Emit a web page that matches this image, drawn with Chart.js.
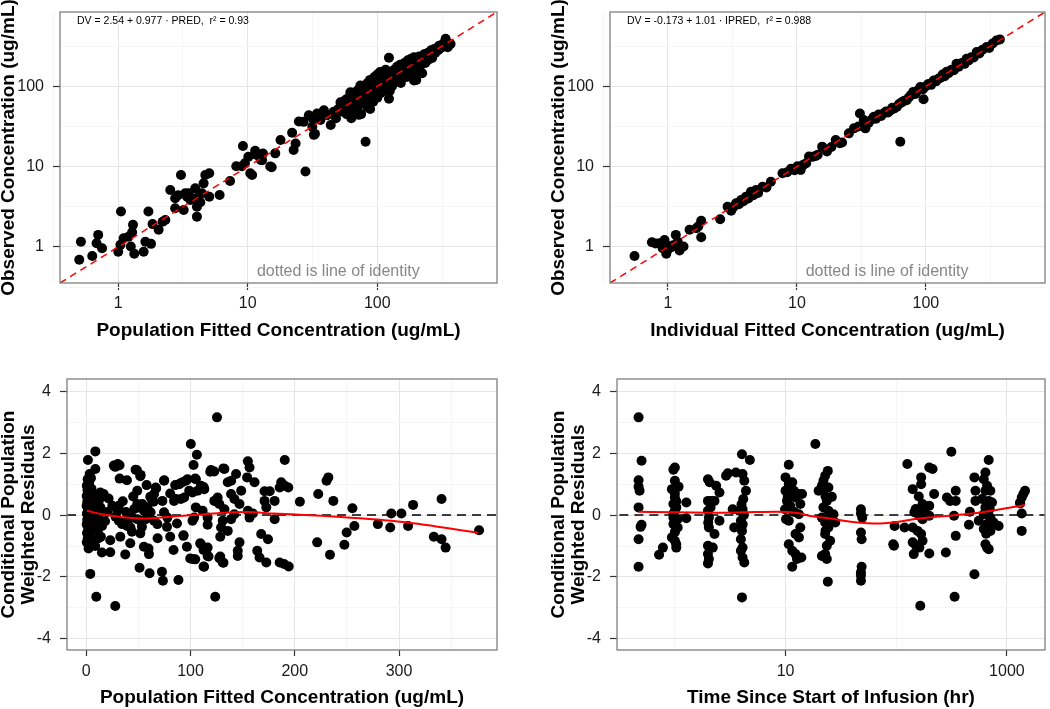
<!DOCTYPE html>
<html>
<head>
<meta charset="utf-8">
<script src="https://cdn.jsdelivr.net/npm/chart.js@4.4.1/dist/chart.umd.min.js"></script>
<style>
  body { margin: 0; background: #fff; width: 1050px; height: 709px; position: relative; overflow: hidden; }
  canvas { position: absolute; }
  #c1 { left: 0; top: 0; }
  #c2 { left: 525px; top: 0; }
  #c3 { left: 0; top: 354px; }
  #c4 { left: 525px; top: 354px; }
</style>
</head>
<body>
<canvas id="c1" width="525" height="354"></canvas>
<canvas id="c2" width="525" height="354"></canvas>
<canvas id="c3" width="525" height="355"></canvas>
<canvas id="c4" width="525" height="355"></canvas>
<script>
// tick labels
const logMajor = [1, 10, 100]
const logMinor = [0.316, 3.16, 31.6, 316]
const predMajor = [0, 100, 200, 300]
const predMinor = [50, 150, 250, 350]
const timeMajor = [10, 1000]
const timeMinor = [1, 100]
const resMajor = [-4, -2, 0, 2, 4]
const resMinor = [-3, -1, 1, 3]

// [PRED, DV]
const popFit = [
  [0.50,0.69],[0.515,1.16],[0.63,0.77],[0.68,1.11],[0.70,1.41],[0.75,0.96],
  [1.00,0.87],[1.04,1.06],[1.05,2.75],[1.10,1.28],[1.20,1.34],[1.25,1.01],[1.28,1.52],[1.30,1.88],[1.33,0.82],
  [1.57,0.87],[1.62,1.16],[1.71,2.75],[1.79,1.09],[1.84,1.92],[2.05,1.63],[2.31,2.16],[2.20,2.05],
  [2.52,5.10],[2.75,3.02],[2.75,4.03],[3.05,7.84],[2.90,4.40],[3.20,2.88],[3.29,4.65],[3.50,4.65],[3.60,3.84],
  [3.93,5.36],[4.05,2.38],[4.05,3.16],[4.17,4.22],[4.30,3.60],[4.43,4.65],[4.56,6.18],[4.70,7.84],[5.04,8.24],
  [5.04,4.22],[6.06,4.43],[3.40,4.20],[3.80,4.00],
  [7.30,6.60],[8.15,10.1],[9.18,18.0],[9.00,10.1],[9.50,10.96],[10.45,8.24],[10.8,7.84],[10.1,13.2],[11.4,15.7],
  [11.7,13.9],[12.6,12.1],[12.9,12.0],[13.1,14.5],[14.9,10.0],[15.3,9.8],[16.3,14.6],[17.9,21.4],[22.0,26.4],
  [22.6,16.1],[23.4,19.4],[24.8,36.3],[27.9,8.7],
  [29.6,43.6],[31.5,31.3],[32.4,24.8],[34.3,45.7],[36.4,37.9],[38.7,50.3],[41.1,43.6],[43.7,32.9],[27,36],[32,39],
  [33,25.5],[38.5,47.5],[46,48],[48,40],[49,47.5],[50,52],[52,63],[54,48],[55,58],[57,68],[58,45],[60,72],[60,55],
  [62,84],[63,40],[65,62],[66,46],[66,78],[68,50],[70,88],[70,66],[72,44],[72,58],[73,92],[74,102],[75,45],[76,72],
  [78,84],[80,62],[80,95],[81.2,20.4],
  [82,76],[83,84],[84,55],[84,110],[85,70],[86,98],[88,52],[88,120],[90,88],[90,78],[92,105],[93,64],[95,130],[95,92],
  [97,115],[98,85],[100,100],[100,140],[100,72],[102,120],[103,95],[105,108],[105,150],[106,82],[108,130],[110,100],
  [110,118],[112,88],[113,140],[115,110],[116,160],[118,125],[118,95],[120,105],[120,145],[122,130],[123,226],[123,70],
  [124,115],[125,88],[126,150],[128,120],[130,140],[130,100],
  [133,130],[135,160],[136,112],[138,125],[140,150],[142,175],[143,118],[145,140],[148,165],[150,130],[150,185],
  [152,110],[155,150],[158,170],[160,140],[162,195],[165,160],[168,130],[170,180],[172,210],[175,150],[178,190],
  [180,165],[182,220],[185,175],[188,140],[190,200],[192,118],[192,230],[195,180],[198,160],[200,215],[200,120],
  [205,190],[210,235],[212,170],[215,200],[220,225],[222,145],[225,210],[230,250],[235,195],[240,230],[245,260],
  [250,215],[255,240],[260,280],[265,225],[270,255],[275,290],[280,260],[290,300],[295,280],[300,320],[310,300],
  [318,330],[325,320],[330,350],[337,390],[345,340],[355,330],[350,305],[368,335]
]

// [IPRED, DV]
const indFit = [
  [0.55,0.77],[0.75,1.14],[0.80,1.10],[0.86,1.11],[0.94,1.22],[0.97,1.06],[0.91,0.96],[0.97,0.82],[1.06,0.99],
  [1.15,1.41],[1.19,1.16],[1.23,0.90],[1.32,1.01],[1.00,0.93],[1.10,1.05],[1.47,1.63],[1.66,1.71],[1.81,2.12],
  [1.81,1.32],[1.72,1.80],
  [2.54,2.21],[2.90,3.17],[3.09,2.82],[3.20,3.10],[3.37,3.49],[3.55,3.40],[3.69,3.84],[3.85,3.70],[4.03,4.22],
  [4.20,4.00],[4.40,4.86],[4.60,4.40],[4.82,5.10],[5.00,4.70],[5.42,5.61],[5.80,5.50],[6.28,6.48],[7.73,8.24],
  [8.40,8.50],[9.00,9.40],[9.60,9.00],[10.1,10.1],[10.6,9.2],[10.7,9.1],[11.2,10.5],[11.8,11.0],[12.4,13.3],
  [13.2,13.2],[14.0,13.5],[14.5,14.0],[15.7,17.7],[17.1,15.4],[18.5,17.5],[20.0,21.4],[21.5,19.5],[22.4,19.9],
  [25.3,25.9],[27.7,29.9],[30.8,45.8],[30.0,31.5],[33.0,37.9],[34.0,29.9],[36.0,35.0],[38.0,38.5],[39.5,41.7],
  [41.0,39.5],[43.0,44.5],[45.0,42.5],[47.0,45.8],[49.0,48.5],[51.0,47.0],[53.0,50.0],[55.0,54.0],[57.0,53.0],
  [59.7,55.5],[62.0,60.0],[63.4,20.4],[65.0,63.0],[68.0,66.0],[71.0,67.0],[74.0,73.0],[77.0,78.0],[80.0,85.0],
  [83.0,80.0],[86.0,88.0],[90.6,98.0],[96.0,69.0],[95.0,92.0],[100,100],[105,107],[110,104],[115,118],[120,115],
  [125,124],[130,128],[135,140],[140,133],[145,151],[150,145],[158,160],[165,158],[173,191],[180,175],[190,195],
  [200,190],[207,220],[215,210],[225,230],[235,228],[248,267],[260,255],[275,285],[296,307],[310,300],[330,340],
  [353,372],[375,383]
]

// [PRED, CWRES]
const resPred = [
  [125.4,3.16],[100.3,2.30],[106.1,1.95],[102.9,1.62],[8.7,2.06],[1.6,1.78],[190.4,1.78],[155,1.74],[156.6,1.54],
  [122.8,1.41],[119.6,1.46],[132.5,1.49],[26.4,1.60],[30.2,1.65],[47.3,1.47],[52.1,1.30],[8.7,1.49],[3.2,1.33],
  [1.3,1.16],[143.7,1.33],[135.7,1.06],[139,1.11],[154.3,1.22],[161.4,1.06],[232.2,1.22],[230.5,1.11],[190.4,0.95],
  [187,1.06],[193.8,0.89],[222.5,0.68],[204.9,0.43],[237,0.46],[255.3,0.22],[340.8,0.52],[313.5,0.33],[292.6,0.05],
  [302.3,0.05],[291.6,-0.40],[279.7,-0.29],[308.7,-0.35],[257.2,-0.35],[249.8,-0.56],[247.6,-0.96],[221.5,-0.88],
  [233.8,-1.28],[333.4,-0.70],[340.8,-0.78],[344.7,-1.05],[376.8,-0.49],[194.2,-1.66],[189.7,-1.58],[185.5,-1.53],
  [172.7,-1.53],[166.2,-1.37],[164,-1.15],[145.3,-1.32],[145.3,-1.15],[147,-0.88],[130.9,-1.53],[127.6,-1.39],
  [112.5,-1.66],[116.4,-1.32],[116.4,-1.05],[110,-0.94],[101.9,-1.42],[104.5,-1.43],[96.5,-1.02],[93.2,-0.67],
  [88.4,-2.10],[72.6,-1.83],[73.5,-2.12],[60.7,-1.88],[51.1,-1.70],[60.1,-1.26],[55.3,-1.02],[37.4,-1.27],[23.0,-1.20],
  [15.0,-1.21],[3.8,-1.90],[9.6,-2.64],[27.8,-2.94],[123.7,-2.64],[2.2,-1.08],[2.5,-0.88],[11.8,-0.75],[23.0,-0.81],
  [32.6,-0.70],[42.2,-0.91],[43.8,-0.54],[51.8,-0.59],[53.4,-0.38],[59.7,-1.08],[68.4,-0.75],[77.4,-0.38],[80.5,-0.70],
  [83.7,-1.13],[87,-0.27],[93.3,-0.65],[99.7,-1.40],[109.3,-0.91],[112.5,-1.13],[117.3,-1.34],[113,-1.67],[128.5,-1.34],
  [131.6,-1.54],[128.5,-0.70],[68.2,-0.29],[174.3,-0.78],[167.8,-0.61],[180.7,-0.13],[180.7,0.46],[185.5,0.89],
  [171,0.77],[176,0.77],[171,0.46],[172.7,0.25],[159.8,0.05],[156.6,-0.08],[155,0.14],[148.6,0.79],[147,0.36],
  [138.9,0.68],[142.1,0.52],[126,0.57],[122.8,0.46],[127.6,0.36],[132.5,0.19],[129.3,-0.40],[130.9,-0.18],
  [135.7,-0.51],[138.9,-0.13],[142,0.03],[116.4,-0.08],[116.4,-0.31],[111.6,0.14],[105.1,0.25],[103.5,-0.08],
  [101.9,-0.18],[113.2,0.84],[110,0.95],[106.8,0.79],[101.9,0.73],[98.7,0.79],[97.1,1.16],[95.5,1.11],[92.3,1.06],
  [89.1,1.00],[105.1,1.16],[93.9,0.57],[90.7,0.52],[85.9,0.52],[84.2,0.46],[77.8,-0.08],[74.6,0.09],[73,0.46],
  [74.6,1.11],[67,0.86],[61.4,0.59],[64.5,0.43],[74.8,1.13],[80.5,0.70],[85.3,0.97],[90,1.02],[104.5,1.18],
  [112.5,0.91],[118.9,1.40],[131.6,1.51],[66.6,0.89],[65,0.68],[63.3,0.46],[58.5,0.25],[61.7,0.09],[55.3,0.14],
  [53.7,0.36],[50.5,0.25],[48.9,-0.13],[52.1,-0.18],[57,-0.13],[65,-0.18],[59,-0.05],[48.9,0.36],[48.9,0.79],
  [57.9,0.97],[44,-0.08],[42.4,-0.40],[39.2,-0.35],[34.4,-0.29],[31.2,-0.18],[29.6,0.14],[31.2,0.30],[32,1.18],
  [39,1.13],[48.6,1.45],[51.8,1.26],[27.8,1.56],[31.9,1.61],[15,0.59],[21.4,0.54],[16.7,0.68],[13.5,0.73],
  [11.9,0.46],[13.5,0.25],[11.9,0.03],[13.5,-0.18],[15.1,-0.35],[25,0.30],[28,-0.05],[35,0.45],[38,0.10],
  [40,-0.15],[45,0.60],[46,0.20],[18,-0.20],[20,0.10],
  [0.5,0.95],[1.2,0.80],[0.4,0.62],[2.0,0.70],[1.0,0.45],[0.3,0.30],[2.5,0.55],[1.5,0.20],[0.6,0.05],[2.2,0.00],
  [0.9,-0.15],[0.4,-0.30],[1.8,-0.42],[0.7,-0.58],[1.4,-0.75],[0.5,-0.88],[3.0,0.25],[3.5,-0.10],[4.2,0.45],
  [4.0,-0.55],[5.0,0.85],[5.5,0.10],[6.0,-0.30],[6.5,0.60],[7.0,-0.80],[8.0,0.35],[9.0,-0.15],[10.0,0.65],
  [11.0,-0.50],[12.0,0.15],[14.0,-0.70],[8.5,-1.00],[2.8,1.05],[4.5,1.20],[3.2,-1.00]
]

// [TIME, CWRES]
const resTime = [
  [0.47,3.16],[0.50,1.76],[0.47,1.13],[0.47,0.92],[0.48,0.79],[0.47,0.25],[0.50,-0.31],[0.49,-0.38],[0.47,-0.78],
  [0.47,-1.67],[0.72,-1.28],[0.78,-1.05],
  [1.00,1.54],[0.97,1.47],[1.00,1.11],[0.94,0.84],[1.03,0.89],[1.08,0.92],[1.00,0.57],[0.97,0.36],[1.03,0.25],
  [1.00,0.14],[0.97,-0.08],[1.06,-0.13],[0.97,-0.29],[1.06,-0.40],[0.94,-0.72],[1.00,-0.83],[1.03,-0.94],[1.03,-1.05],
  [1.27,0.41],[1.27,-0.10],[1.00,0.70],[1.03,0.45],[0.97,0.05],[1.00,-0.55],
  [1.99,1.16],[2.06,1.06],[1.99,0.46],[2.13,0.46],[2.28,0.46],[2.36,0.95],[2.53,0.73],[2.53,-0.18],[2.03,-0.08],
  [2.03,-0.40],[2.28,-0.61],[1.99,-0.99],[2.20,-1.05],[1.99,-1.26],[2.03,-1.42],[1.99,-1.56],[1.99,0.14],[2.1,0.25],
  [2.0,-0.25],[2.90,1.27],[3.01,1.35],
  [3.56,1.38],[4.04,1.97],[4.76,1.78],[4.09,1.33],[4.24,1.11],[4.39,0.79],[4.15,0.52],[4.09,0.19],[3.82,0.14],
  [3.33,0.19],[3.44,-0.40],[3.95,-0.18],[4.04,-0.51],[3.95,-0.78],[4.09,-1.05],[3.95,-1.15],[4.09,-1.37],[4.24,-1.53],
  [4.04,-2.66],[4.2,0.0],[4.1,-0.3],[4.0,0.35],
  [10.7,1.63],[10.0,1.22],[10.7,1.00],[11.5,1.06],[11.9,0.79],[12.3,0.57],[13.2,0.68],[10.0,0.79],[10.3,0.46],
  [9.9,0.19],[10.1,-0.13],[10.7,-0.18],[11.5,0.14],[13.6,0.36],[14.1,0.68],[13.2,0.03],[13.6,-0.40],[12.3,-0.61],
  [13.2,-0.72],[10.7,-0.94],[11.5,-1.15],[12.3,-1.26],[12.7,-1.42],[11.5,-1.67],[13.9,-1.37],[11.0,0.30],[12.0,0.10],
  [10.5,0.60],[18.6,2.30],
  [24.1,1.43],[22.8,1.27],[22.0,1.11],[21.3,0.95],[19.9,0.79],[22.0,0.77],[24.4,0.89],[26.2,0.59],[23.6,0.46],
  [22.0,0.25],[24.4,0.14],[27.1,0.03],[21.3,-0.08],[22.8,-0.24],[28.1,-0.24],[24.4,-0.40],[22.8,-0.61],[25.3,-0.83],
  [23.6,-0.99],[22.8,-1.26],[21.3,-1.32],[23.6,-1.42],[24.1,-2.15],[23.0,0.60],[24.0,-0.10],[23.0,-0.50],
  [48,0.19],[49.3,-0.08],[48,-0.56],[48.7,-0.78],[48.7,-1.67],[48,-1.85],[48,-2.12],[48,-1.95],[48,0.05],
  [96.6,-0.35],[94,-0.94],[95.5,-0.99],[126,1.65],
  [141,0.84],[168,1.22],[168,1.00],[199,1.54],[213,1.49],[220,0.68],[173,0.36],[199,0.30],[179,0.25],[146,0.09],
  [162,-0.02],[173,-0.13],[119,-0.40],[141,-0.40],[156,-0.51],[168,-0.61],[141,-0.88],[151,-0.99],[162,-1.05],
  [173,-0.83],[144,-1.26],[199,-1.24],[165,-2.93],[199,-0.02],[160,0.60],[150,0.20],[180,0.10],
  [281,-1.21],[287,0.57],[307,0.46],[315,2.05],[333,-0.02],[345,0.79],[345,0.46],[345,-0.67],[337,-2.64],
  [509,1.22],[509,-1.91],[463,0.11],[454,-0.31],[520,0.79],[520,0.46],[557,-0.18],[640,1.38],[618,1.16],[662,0.95],
  [685,1.78],[640,0.79],[709,0.79],[597,0.52],[685,0.46],[640,0.25],[734,0.41],[618,0.03],[709,-0.08],[662,-0.29],
  [618,-0.45],[709,-0.51],[760,-0.24],[842,-0.35],[640,-0.94],[662,-1.05],[685,-1.10],[660,0.10],[700,0.20],[650,-0.60],
  [1459,0.79],[1409,0.68],[1361,0.57],[1316,0.41],[1361,0.05],[1361,-0.51],[1316,0.38]
]

// smoother
const smoothPred = [[0.6,0.14],[16.6,0.02],[55,-0.11],[80.5,-0.05],[103,0.0],[128.5,0.07],[154,0.10],[180,0.05],
  [240,-0.05],[304,-0.22],[376,-0.57]]
const smoothTime = [[0.47,0.11],[1.0,0.09],[2.1,0.08],[4.0,0.09],[8.4,0.11],[12.7,0.07],[16.8,-0.03],[25.3,-0.11],
  [40.8,-0.22],[71,-0.27],[162,-0.11],[485,0.05],[842,0.18],[1459,0.33]]

Chart.defaults.font.family = '"Liberation Sans", Arial, Helvetica, sans-serif'

const xy = arr => arr.map(([x, y]) => ({ x, y }))

const decor = {
  id: 'decor',
  afterDraw(chart, args, opts) {
    const { ctx, chartArea: a } = chart
    ctx.save()
    ctx.strokeStyle = '#7f7f7f'
    ctx.lineWidth = 1.3
    ctx.strokeRect(a.left, a.top, a.right - a.left, a.bottom - a.top)
    if (opts.eq) {
      ctx.font = '10.5px "Liberation Sans", Arial, sans-serif'
      ctx.fillStyle = '#000'
      ctx.textBaseline = 'middle'
      ctx.fillText(opts.eq, a.left + 17, a.top + 9)
    }
    if (opts.note) {
      const x = chart.scales.x.getPixelForValue(opts.note.x)
      const y = chart.scales.y.getPixelForValue(opts.note.y)
      ctx.font = '16px "Liberation Sans", Arial, sans-serif'
      ctx.fillStyle = '#878787'
      ctx.textAlign = 'center'
      ctx.textBaseline = 'middle'
      ctx.fillText(opts.note.text, x, y)
    }
    ctx.restore()
  }
}

function axis(o) {
  const isMajor = v => o.major.includes(v)
  return {
    type: o.type,
    min: o.min,
    max: o.max,
    afterBuildTicks: s => {
      s.ticks = o.major.concat(o.minor).sort((a, b) => a - b).map(v => ({ value: v }))
    },
    afterFit: s => {
      if (o.vertical) s.width = o.size
      else s.height = o.size
      s.paddingTop = 0; s.paddingBottom = 0; s.paddingLeft = 0; s.paddingRight = 0
    },
    border: { display: false },
    grid: {
      color: c => (c.tick && isMajor(c.tick.value)) ? '#e6e6e6' : '#f5f5f5',
      lineWidth: 1,
      tickLength: o.tickLen,
      tickWidth: 1.2,
      tickColor: c => (c.tick && isMajor(c.tick.value)) ? '#333' : 'rgba(0,0,0,0)'
    },
    ticks: {
      autoSkip: false,
      maxRotation: 0,
      minRotation: 0,
      padding: o.pad,
      color: '#1a1a1a',
      font: { size: 16 },
      callback: v => isMajor(v) ? String(v) : ''
    },
    title: {
      display: true,
      text: o.title,
      color: '#000',
      font: { size: 19, weight: 'bold', lineHeight: o.lh || 1 },
      padding: o.titlePad
    }
  }
}

function points(arr) {
  return { data: xy(arr), backgroundColor: '#000', borderWidth: 0, pointRadius: 5, order: 3 }
}

function refLine(data, color, dash, width, order) {
  return {
    type: 'line', showLine: true, data: data, borderColor: color, borderDash: dash,
    borderWidth: width, pointRadius: 0, fill: false, order: order
  }
}

function smooth(arr) {
  return {
    type: 'line', showLine: true, data: xy(arr), borderColor: '#ff0000', borderWidth: 2,
    pointRadius: 0, fill: false, tension: 0.4, cubicInterpolationMode: 'monotone', order: 1
  }
}

function make(id, datasets, scales, padding, decorOpts) {
  return new Chart(document.getElementById(id), {
    type: 'scatter',
    data: { datasets },
    options: {
      responsive: false,
      animation: false,
      events: [],
      layout: { padding },
      plugins: { legend: { display: false }, tooltip: { enabled: false }, decor: decorOpts },
      scales
    },
    plugins: [decor]
  })
}

const LO = 0.355, HI = 840
const resTitle = ['Conditional Population', 'Weighted Residuals']

// top left
make('c1',
  [refLine([{ x: LO, y: LO }, { x: HI, y: HI }], '#ff0000', [7, 5], 1.5, 1), points(popFit)],
  {
    x: axis({ type: 'logarithmic', min: LO, max: HI, major: logMajor, minor: logMinor, size: 71, tickLen: 7, pad: 4,
      title: 'Population Fitted Concentration (ug/mL)', titlePad: { top: 0, bottom: 14 } }),
    y: axis({ type: 'logarithmic', min: LO, max: HI, major: logMajor, minor: logMinor, vertical: true, size: 60, tickLen: 7, pad: 9,
      title: 'Observed Concentration (ug/mL)', titlePad: { top: -1, bottom: 0 } })
  },
  { left: 0, top: 12, right: 28, bottom: 0 },
  { eq: 'DV = 2.54 + 0.977 \u00b7 PRED,  r\u00b2 = 0.93', note: { x: 50, y: 0.49, text: 'dotted is line of identity' } }
)

// top right
make('c2',
  [refLine([{ x: LO, y: LO }, { x: HI, y: HI }], '#ff0000', [7, 5], 1.5, 1), points(indFit)],
  {
    x: axis({ type: 'logarithmic', min: LO, max: HI, major: logMajor, minor: logMinor, size: 71, tickLen: 7, pad: 4,
      title: 'Individual Fitted Concentration (ug/mL)', titlePad: { top: 0, bottom: 14 } }),
    y: axis({ type: 'logarithmic', min: LO, max: HI, major: logMajor, minor: logMinor, vertical: true, size: 60, tickLen: 7, pad: 9,
      title: 'Observed Concentration (ug/mL)', titlePad: { top: -1, bottom: 0 } })
  },
  { left: 25, top: 12, right: 3, bottom: 0 },
  { eq: 'DV = -0.173 + 1.01 \u00b7 IPRED,  r\u00b2 = 0.988', note: { x: 50, y: 0.49, text: 'dotted is line of identity' } }
)

// bottom left
make('c3',
  [smooth(smoothPred), refLine([{ x: -18.5, y: 0 }, { x: 394, y: 0 }], '#000', [9, 6], 1.5, 2), points(resPred)],
  {
    x: axis({ type: 'linear', min: -18.5, max: 394, major: predMajor, minor: predMinor, size: 59, tickLen: 6, pad: 6,
      title: 'Population Fitted Concentration (ug/mL)', titlePad: { top: 0, bottom: 2 } }),
    y: axis({ type: 'linear', min: -4.36, max: 4.4, major: resMajor, minor: resMinor, vertical: true, size: 67, tickLen: 7, pad: 9,
      title: resTitle, lh: 1.05, titlePad: { top: -1.6, bottom: 0 } })
  },
  { left: 0, top: 25, right: 28, bottom: 0 },
  {}
)

// bottom right
make('c4',
  [smooth(smoothTime), refLine([{ x: 0.315, y: 0 }, { x: 2210, y: 0 }], '#000', [9, 6], 1.5, 2), points(resTime)],
  {
    x: axis({ type: 'logarithmic', min: 0.315, max: 2210, major: timeMajor, minor: timeMinor, size: 59, tickLen: 6, pad: 6,
      title: 'Time Since Start of Infusion (hr)', titlePad: { top: 0, bottom: 2 } }),
    y: axis({ type: 'linear', min: -4.36, max: 4.4, major: resMajor, minor: resMinor, vertical: true, size: 67, tickLen: 7, pad: 9,
      title: resTitle, lh: 1.05, titlePad: { top: -1.6, bottom: 0 } })
  },
  { left: 25, top: 25, right: 3, bottom: 0 },
  {}
)
</script>
</body>
</html>
